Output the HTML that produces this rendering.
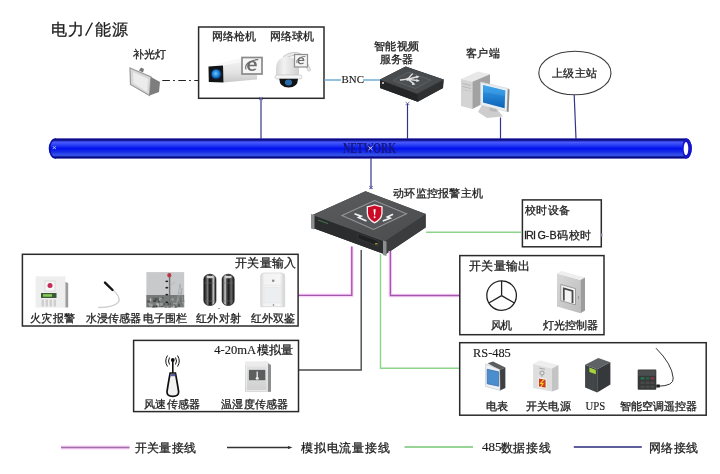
<!DOCTYPE html>
<html><head><meta charset="utf-8">
<style>
html,body{margin:0;padding:0;background:#fff;}
svg{display:block;will-change:transform;font-family:"Liberation Sans",sans-serif;font-size:11px;}
.t{fill:#1e1e1e;stroke:#1e1e1e;stroke-width:0.3px;}
.sf{font-family:"Liberation Serif",serif;}
.ts{fill:#1a1a1a;stroke:#1a1a1a;stroke-width:0.15px;}
</style></head><body>
<svg width="720" height="474" viewBox="0 0 720 474">
<defs>
<linearGradient id="pipe" x1="0" y1="0" x2="0" y2="1">
<stop offset="0" stop-color="#3a3ab0"/>
<stop offset="0.07" stop-color="#00007a"/>
<stop offset="0.19" stop-color="#4a5cff"/>
<stop offset="0.32" stop-color="#2a40f2"/>
<stop offset="0.5" stop-color="#0010ee"/>
<stop offset="0.68" stop-color="#1a30e6"/>
<stop offset="0.83" stop-color="#3a58ea"/>
<stop offset="0.93" stop-color="#00007e"/>
<stop offset="1" stop-color="#4a4ab0"/>
</linearGradient>
<radialGradient id="lens" cx="0.45" cy="0.45" r="0.6">
<stop offset="0" stop-color="#6cc8ff"/>
<stop offset="0.6" stop-color="#1a7fd8"/>
<stop offset="1" stop-color="#0a3f80"/>
</radialGradient>
<linearGradient id="ir" x1="0" y1="0" x2="1" y2="0">
<stop offset="0" stop-color="#1a1a1a"/>
<stop offset="0.25" stop-color="#888"/>
<stop offset="0.4" stop-color="#222"/>
<stop offset="0.7" stop-color="#111"/>
<stop offset="0.85" stop-color="#bbb"/>
<stop offset="1" stop-color="#222"/>
</linearGradient>
<linearGradient id="sky" x1="0" y1="0" x2="0" y2="1">
<stop offset="0" stop-color="#c9cccd"/>
<stop offset="0.55" stop-color="#d2d4d4"/>
<stop offset="0.75" stop-color="#9a9e9c"/>
<stop offset="1" stop-color="#5d625e"/>
</linearGradient>
<linearGradient id="scr" x1="0" y1="0" x2="0" y2="1">
<stop offset="0" stop-color="#3aa0e8"/>
<stop offset="1" stop-color="#0a62b8"/>
</linearGradient>
</defs>

<!-- title -->
<text x="51 67.5 94.5 112" y="35" font-size="16" class="t">电力能源</text>
<line x1="85.6" y1="35.6" x2="92.4" y2="22.6" stroke="#222" stroke-width="1.3"/>

<!-- lamp -->
<text x="133" y="58" class="t" textLength="33" lengthAdjust="spacing">补光灯</text>
<polygon points="130,68 151,77 149.5,95.5 130.5,84.5" fill="#d8d8d8" stroke="#9a9a9a" stroke-width="1.2"/>
<polygon points="133,72 148,79 147,92 133.5,83" fill="#ececec"/>
<polygon points="151,77 160,82 159,92 149.5,95.5" fill="#7d7d7d"/>
<polygon points="139,70.5 141,67.5 144,69 143,72.5" fill="#777"/>
<line x1="162.3" y1="80.5" x2="198" y2="80.5" stroke="#222" stroke-width="1.2" stroke-dasharray="7.6,3.2,1.8,3.4"/>

<!-- camera box -->
<rect x="198.6" y="27" width="125.4" height="71.3" fill="none" stroke="#2a2a2a" stroke-width="1.5"/>
<text x="212" y="40" class="t" textLength="44" lengthAdjust="spacing">网络枪机</text>
<text x="270" y="40" class="t" textLength="44" lengthAdjust="spacing">网络球机</text>
<!-- gun camera -->
<defs>
<linearGradient id="camSide" x1="0" y1="0" x2="0" y2="1">
<stop offset="0" stop-color="#f4f4f4"/>
<stop offset="0.6" stop-color="#e2e2e2"/>
<stop offset="1" stop-color="#c8c8c8"/>
</linearGradient>
<linearGradient id="domeG" x1="0" y1="0" x2="1" y2="0">
<stop offset="0" stop-color="#d6d6d6"/>
<stop offset="0.35" stop-color="#f2f2f2"/>
<stop offset="1" stop-color="#cfcfcf"/>
</linearGradient>
<symbol id="ie" viewBox="0 0 20 20">
<path d="M4.2,10.8 L15.6,10.8 Q16,4.6 10.2,4.4 Q4.4,4.6 4.2,10.8 Q4.4,16.4 10.4,16.4 Q13.8,16.3 15.2,13.8 L12.2,13.8 Q11.4,14.6 10.2,14.6 Q7.4,14.5 7.2,12.2 L7.2,10.8 M7.3,9 Q7.8,6.4 10.2,6.3 Q12.6,6.4 12.8,9 Z" fill="#6c6c6c" fill-rule="evenodd"/>
<path d="M3,14.5 Q1,9 7.5,5.5 Q14,2.5 17.5,3.2" fill="none" stroke="#6c6c6c" stroke-width="1.3"/>
</symbol>
</defs>
<polygon points="208.5,66.5 238,58.5 257,59 223,65.5" fill="#f8f8f8"/>
<polygon points="223,65.5 257,59 257,79.5 223.5,82.5" fill="url(#camSide)"/>
<polygon points="208.5,66.5 223,65.5 223.5,82.5 208.8,82" fill="#121416"/>
<circle cx="216.2" cy="74" r="5.6" fill="#0c2a48"/><circle cx="216.2" cy="74" r="4.6" fill="url(#lens)"/>
<rect x="242" y="57.5" width="20" height="16.5" fill="#f6f6f6" stroke="#8a8a8a" stroke-width="1.7"/>
<use href="#ie" x="243" y="57" width="18" height="17"/>
<!-- dome camera -->
<path d="M285,57 Q296,50.5 303,57.5 L309,69.5" fill="none" stroke="#bdbdbd" stroke-width="3.6" stroke-linecap="round"/><path d="M285,57 Q296,50.5 303,57.5 L309,69.5" fill="none" stroke="#e8e8e8" stroke-width="2.2" stroke-linecap="round"/>
<path d="M276,76 L276,68 Q276.5,57.2 287.5,57 Q298.5,57.2 299,68 L299,76 Z" fill="url(#domeG)"/>
<rect x="275" y="75" width="27" height="4" rx="2" fill="#f4f4f4" stroke="#bdbdbd" stroke-width="0.6"/>
<path d="M279.3,78.8 L298,78.8 Q297.8,87.6 288.6,87.6 Q279.5,87.6 279.3,78.8 Z" fill="#111315"/>
<ellipse cx="288.5" cy="82.5" rx="3.6" ry="3" fill="#2a6aa8"/>
<rect x="294.5" y="54.5" width="13" height="12.5" fill="#f4f4f4" stroke="#8c8c8c" stroke-width="1.2"/>
<use href="#ie" x="295" y="54.5" width="12" height="12"/>

<!-- BNC -->
<line x1="324" y1="80" x2="341" y2="80" stroke="#5a9fd0" stroke-width="1.3"/>
<text x="341.5" y="83.1" font-size="10.8" class="ts sf" textLength="22.4" lengthAdjust="spacingAndGlyphs">BNC</text>
<line x1="363" y1="80" x2="381" y2="80" stroke="#5a9fd0" stroke-width="1.3"/>

<!-- server -->
<text x="374" y="50" class="t" textLength="45" lengthAdjust="spacing">智能视频</text>
<text x="380" y="62.9" class="t" textLength="33" lengthAdjust="spacing">服务器</text>
<polygon points="380,79.5 405.6,66.5 443.6,79.5 443,88 417.7,101.7 380,88" fill="#26282a"/>
<polygon points="380,79.5 405.6,66.5 443.6,79.5 417.2,93.5" fill="#484b4e"/>
<polygon points="417.2,93.5 443.6,79.5 443,88 417.7,101.7" fill="#2e3032"/>
<polygon points="380,79.5 417.2,93.5 417.7,101.7 380,88" fill="#232527"/>
<line x1="380" y1="79.5" x2="417.2" y2="93.5" stroke="#55585b" stroke-width="0.6"/>
<line x1="417.2" y1="93.5" x2="443.6" y2="79.5" stroke="#4a4d50" stroke-width="0.6"/>
<polygon points="393,80.5 408,72 431,80 415.5,88.5" fill="#4c4f52" stroke="#64676a" stroke-width="0.7"/>
<g stroke="#e2e2e2" stroke-width="1.4" fill="none" stroke-linecap="round">
<path d="M400.5,80 L407.6,79.2 L412.4,73.9 M407.6,79.2 L417.5,76.8 M407.6,79.2 L418,80.6 M407.6,79.2 L413.8,83.6"/>
</g>
<circle cx="407.4" cy="79.3" r="1.5" fill="#e2e2e2"/>
<path d="M416,75.4 L419.6,76.5 L416.6,78.4 Z M416.4,79.1 L419.8,80.8 L416.2,82 Z M412.2,82.4 L415.6,84.6 L412,85 Z" fill="#e2e2e2"/>
<circle cx="383" cy="83" r="1.1" fill="#d0d0d0"/>

<!-- client -->
<text x="465.5" y="57" class="t" textLength="34" lengthAdjust="spacing">客户端</text>
<polygon points="461,79 478,71.4 490,74.3 472.4,81.8" fill="#e8e8e8"/>
<polygon points="461,79 472.4,81.8 472.4,109 461,106" fill="#d4d4d4"/>
<polygon points="472.4,81.8 490,74.3 490,100 472.4,109" fill="#a2a2a2"/>
<line x1="462.5" y1="83.5" x2="471" y2="85.5" stroke="#b0b0b0" stroke-width="0.8"/>
<line x1="462.5" y1="86.5" x2="471" y2="88.5" stroke="#b0b0b0" stroke-width="0.8"/>
<line x1="462.5" y1="89.5" x2="471" y2="91.5" stroke="#c0c0c0" stroke-width="0.6"/>
<polygon points="482,105 497,109 503,116.5 487,118 478,112" fill="#cdcdcd"/>
<polygon points="489,106 496,108 497,112 490,111" fill="#b8b8b8"/>
<polygon points="480.5,82 507.8,88.5 506.8,111.5 480.5,105" fill="#e9eef2" stroke="#c8d0d6" stroke-width="0.6"/>
<polygon points="507.8,88.5 509.6,89.8 508.6,112 506.8,111.5" fill="#8a8a8a"/>
<polygon points="483,85 505.3,90.5 504.6,108.3 483,102.5" fill="url(#scr)"/>
<polygon points="483,85 505.3,90.5 505.1,96 483,92" fill="#4ab0f0" opacity="0.35"/>

<!-- superior station -->
<ellipse cx="574.9" cy="73" rx="36.1" ry="21.8" fill="#fff" stroke="#3a3a3a" stroke-width="1.1"/>
<text x="552" y="77" class="t" textLength="45" lengthAdjust="spacing">上级主站</text>

<!-- network verticals -->
<g stroke="#34348c" stroke-width="1.2">
<line x1="261" y1="98" x2="261" y2="139"/>
<line x1="407.5" y1="104" x2="407.5" y2="139"/>
<line x1="500.5" y1="117.5" x2="500.5" y2="139"/>
<line x1="574.2" y1="95" x2="576" y2="139"/>
<line x1="371" y1="158" x2="371" y2="189"/>
</g>
<g stroke="#5a5aa8" stroke-width="0.8">
<path d="M405.5,102 L409.5,105 M409.5,102 L405.5,105"/>
<path d="M259,97 L263,100 M263,97 L259,100"/>
<path d="M369,186 L373,189 M373,186 L369,189"/>
</g>

<!-- pipe -->
<path d="M55.5,138.3 L686,138.3 A5.8,10.25 0 0 1 686,158.8 L55.5,158.8 A6.8,10.25 0 0 1 55.5,138.3 Z" fill="url(#pipe)"/>
<path d="M56,138.9 A6.3,9.65 0 0 0 56,158.2" fill="none" stroke="#0a0a9a" stroke-width="1.2"/>
<path d="M686,138.3 A5.8,10.25 0 0 1 686,158.8 A3.5,10.25 0 0 1 686,138.3 Z" fill="#1414c8"/>
<ellipse cx="686" cy="148.7" rx="2.3" ry="6.6" fill="#fff"/>
<text x="343" y="152.5" font-size="14.5" font-weight="bold" class="sf" fill="#16167a" textLength="53" lengthAdjust="spacingAndGlyphs">NETWORK</text>
<path d="M368.5,146.5 L372.5,150 M372.5,146.5 L368.5,150" stroke="#d0d0ff" stroke-width="1"/>
<text x="52" y="150" font-size="8" fill="#c8c8ff">×</text>

<!-- alarm host -->
<text x="393" y="197" class="t" textLength="90" lengthAdjust="spacing">动环监控报警主机</text>
<defs>
<linearGradient id="hostTop" x1="0" y1="0" x2="1" y2="1">
<stop offset="0" stop-color="#5a5c5e"/>
<stop offset="1" stop-color="#4a4c4e"/>
</linearGradient>
</defs>
<polygon points="313,214.8 365.5,191.3 425.6,213.9 425.6,227.4 385.3,254.5 313,228" fill="#2c2e30"/>
<polygon points="313,214.8 365.5,191.3 425.6,213.9 384.4,241" fill="url(#hostTop)"/>
<polygon points="384.4,241 425.6,213.9 425.6,227.4 385.3,254.5" fill="#3a3c3e"/>
<polygon points="313,214.8 384.4,241 385.3,254.5 313,228" fill="#2a2c2e"/>
<line x1="313" y1="214.8" x2="384.4" y2="241" stroke="#6a6c6e" stroke-width="0.6"/>
<line x1="384.4" y1="241" x2="425.6" y2="213.9" stroke="#5a5c5e" stroke-width="0.6"/>
<polygon points="342,215.5 374.5,200.5 406.5,213.8 373.5,229.5" fill="#55575a" stroke="#94969a" stroke-width="1.1"/>
<polygon points="311,214 314.5,215 314.5,229.5 311,228.5" fill="#8c8e90"/>
<polygon points="383,240.5 386.5,241.5 386.5,256 383,255" fill="#8c8e90"/>
<line x1="318" y1="220" x2="328" y2="223.6" stroke="#4a8a4a" stroke-width="0.8"/>
<polygon points="358,233.5 378,240.8 378,246 358,238.7" fill="#1e2022" stroke="#45474a" stroke-width="0.5"/>
<rect x="375" y="243" width="2.5" height="1.5" fill="#a08a30"/>
<path d="M366.7,206.3 Q370.5,205.6 374.6,204.2 Q378.7,205.6 382.6,206.3 L382.6,213.5 Q382,220 374.6,223.4 Q367.2,220 366.7,213.5 Z" fill="#fff0f2"/>
<path d="M368,207.3 Q371.3,206.7 374.6,205.5 Q377.9,206.7 381.3,207.3 L381.3,213.5 Q380.8,219 374.6,222 Q368.4,219 368,213.5 Z" fill="#cc0a26"/>
<path d="M373.5,209.2 L375.7,209.2 L375.1,215.2 L374.1,215.2 Z" fill="#fff"/>
<circle cx="374.6" cy="217.2" r="1" fill="#fff"/>
<path d="M354.5,213.8 L361,216.2 L358.6,217.4 L366.5,221" fill="none" stroke="#f2f2f2" stroke-width="1.7" stroke-linejoin="miter"/>
<path d="M393,214.2 L387.4,217 L390,218.2 L382.8,221" fill="none" stroke="#f2f2f2" stroke-width="1.7" stroke-linejoin="miter"/>

<!-- timing box -->
<rect x="522.4" y="199.9" width="78.9" height="46.9" fill="none" stroke="#2a2a2a" stroke-width="1.5"/>
<text x="525" y="214" class="t" textLength="45" lengthAdjust="spacing">校时设备</text>
<text x="524 526.1 533 537.5 545.5 549.4" y="239.3" class="t" font-size="10.8">IRIG-B</text>
<text x="556.8 569.2 580.4" y="238.8" class="t">码校时</text>
<rect x="600.5" y="233.5" width="2" height="3" fill="#8a8ab0"/>

<!-- connection lines -->
<g fill="none" stroke-width="3.6" stroke="#fbd6fb">
<polyline points="298,295.4 351.8,295.4 351.8,246.5"/>
<polyline points="390.4,251 390.4,295.5 459.5,295.5"/>
</g>
<g fill="none" stroke-width="1.4">
<polyline points="298,295.4 351.8,295.4 351.8,246.5" stroke="#a455ac"/>
<polyline points="390.4,251 390.4,295.5 459.5,295.5" stroke="#a455ac"/>
<polyline points="361.2,250 361.2,370 298.5,370" stroke="#4a4a4a"/>
<polyline points="380.5,254 380.5,368.3 460,368.3" stroke="#8cd48c"/>
<line x1="426" y1="232.2" x2="522" y2="232.2" stroke="#8cd48c"/>
</g>

<!-- input box -->
<rect x="22.4" y="254.3" width="275.7" height="71.7" fill="none" stroke="#2a2a2a" stroke-width="1.5"/>
<text x="235" y="267" font-size="12" class="t" textLength="61" lengthAdjust="spacing">开关量输入</text>
<text x="30" y="322" class="t" textLength="45" lengthAdjust="spacing">火灾报警</text>
<text x="85.7" y="322" class="t" textLength="55.3" lengthAdjust="spacing">水浸传感器</text>
<text x="143.4" y="322" class="t" textLength="44" lengthAdjust="spacing">电子围栏</text>
<text x="196" y="322" class="t" textLength="45" lengthAdjust="spacing">红外对射</text>
<text x="250.5" y="322" class="t" textLength="44.5" lengthAdjust="spacing">红外双鉴</text>
<!-- fire alarm -->
<rect x="35.6" y="276.3" width="29.8" height="31.3" fill="#eeeeee"/>
<polygon points="65.4,282 68.2,283 68.2,307.6 65.4,307.6" fill="#9d9d9d"/>
<rect x="45" y="281" width="10" height="10" fill="#f6f6f6" stroke="#ccc" stroke-width="0.6"/>
<circle cx="50" cy="285.6" r="2.5" fill="#c82a5a"/>
<rect x="41" y="293" width="15.5" height="5" fill="#3a5a3a"/>
<rect x="43" y="294.2" width="9" height="2.5" fill="#8acb5a"/>
<g fill="#cfcfcf"><rect x="41.5" y="299.5" width="2.5" height="7"/><rect x="45.5" y="299.5" width="2.5" height="7"/><rect x="49.5" y="299.5" width="2.5" height="7"/><rect x="53.5" y="299.5" width="2.5" height="7"/></g>
<!-- water sensor -->
<path d="M113,290 Q121,297 118.5,302 Q114,307.5 98,307.5" fill="none" stroke="#e0e0e0" stroke-width="1.6"/>
<path d="M113,290 Q121,297 118.5,302 Q114,307.5 98,307.5" fill="none" stroke="#b8b8b8" stroke-width="0.5"/>
<line x1="105" y1="282.6" x2="112.5" y2="290" stroke="#151515" stroke-width="2.4" stroke-linecap="round"/>
<!-- fence photo -->
<defs><clipPath id="fc"><rect x="146.2" y="272.1" width="38.2" height="35.5"/></clipPath></defs>
<g clip-path="url(#fc)">
<rect x="146.2" y="272.1" width="38.2" height="35.5" fill="#c7c9cb"/>
<rect x="146.2" y="295" width="38.2" height="12.6" fill="#767a78"/>
<rect x="155.0" y="302.4" width="1.9" height="2.2" fill="#7c807e"/>
<rect x="167.7" y="303.1" width="3.3" height="1.9" fill="#484c4a"/>
<rect x="154.9" y="307.0" width="2.2" height="2.7" fill="#b8bbb9"/>
<rect x="160.9" y="305.6" width="1.6" height="1.3" fill="#484c4a"/>
<rect x="160.6" y="297.2" width="2.9" height="1.3" fill="#484c4a"/>
<rect x="147.8" y="304.8" width="3.1" height="1.5" fill="#484c4a"/>
<rect x="172.8" y="305.8" width="2.8" height="2.8" fill="#b8bbb9"/>
<rect x="173.1" y="302.8" width="3.4" height="1.3" fill="#9a9e9c"/>
<rect x="149.8" y="298.4" width="1.5" height="2.9" fill="#b8bbb9"/>
<rect x="175.0" y="305.6" width="2.1" height="2.7" fill="#484c4a"/>
<rect x="159.2" y="302.9" width="2.5" height="2.8" fill="#7c807e"/>
<rect x="180.1" y="297.3" width="1.7" height="2.2" fill="#7c807e"/>
<rect x="152.2" y="305.6" width="3.4" height="2.8" fill="#484c4a"/>
<rect x="150.1" y="303.6" width="2.6" height="3.0" fill="#9a9e9c"/>
<rect x="156.7" y="297.6" width="3.1" height="3.0" fill="#5a5e5c"/>
<rect x="158.9" y="297.7" width="3.2" height="1.0" fill="#b8bbb9"/>
<rect x="174.6" y="305.7" width="1.1" height="2.2" fill="#5a5e5c"/>
<rect x="160.2" y="302.9" width="2.4" height="2.8" fill="#9a9e9c"/>
<rect x="164.9" y="307.0" width="1.8" height="1.2" fill="#484c4a"/>
<rect x="166.0" y="306.5" width="3.4" height="1.6" fill="#9a9e9c"/>
<rect x="152.0" y="297.4" width="3.2" height="1.6" fill="#6a6e6a"/>
<rect x="179.4" y="300.8" width="2.2" height="2.0" fill="#7c807e"/>
<rect x="178.3" y="303.8" width="1.3" height="2.9" fill="#484c4a"/>
<rect x="156.2" y="303.3" width="2.8" height="2.9" fill="#b8bbb9"/>
<rect x="182.4" y="302.2" width="2.4" height="1.0" fill="#b8bbb9"/>
<rect x="182.7" y="300.1" width="1.9" height="2.2" fill="#6a6e6a"/>
<rect x="148.4" y="303.3" width="2.2" height="2.4" fill="#9a9e9c"/>
<rect x="168.7" y="299.8" width="2.2" height="2.2" fill="#7c807e"/>
<rect x="147.0" y="300.7" width="2.6" height="1.6" fill="#484c4a"/>
<rect x="158.0" y="300.6" width="1.8" height="1.7" fill="#484c4a"/>
<rect x="156.0" y="304.9" width="1.3" height="2.6" fill="#484c4a"/>
<rect x="171.5" y="298.3" width="2.3" height="2.3" fill="#9a9e9c"/>
<rect x="155.0" y="298.9" width="2.1" height="2.4" fill="#5a5e5c"/>
<rect x="168.4" y="306.5" width="2.7" height="1.4" fill="#6a6e6a"/>
<rect x="149.2" y="304.4" width="1.5" height="2.1" fill="#9a9e9c"/>
<rect x="154.5" y="298.2" width="2.3" height="1.4" fill="#484c4a"/>
<rect x="153.0" y="299.8" width="3.0" height="2.3" fill="#484c4a"/>
<rect x="159.0" y="298.3" width="1.7" height="2.6" fill="#9a9e9c"/>
<rect x="163.4" y="303.3" width="1.7" height="2.1" fill="#5a5e5c"/>
<rect x="180.3" y="298.6" width="1.0" height="2.9" fill="#484c4a"/>
<g stroke="#9ea2a2" stroke-width="0.6" fill="none">
<path d="M176,307 L180,284 L184,307 M177,300 L183,300 M178,293 L182,293 M176.5,304 L182.5,288"/>
</g>
<line x1="169.6" y1="277" x2="169.6" y2="307.6" stroke="#6e7272" stroke-width="1.4"/>
<line x1="169.6" y1="286" x2="175" y2="282" stroke="#9aa" stroke-width="0.5"/>
<g fill="#222"><ellipse cx="166.8" cy="281.3" rx="1.5" ry="0.9"/><ellipse cx="166.8" cy="287.7" rx="1.5" ry="0.9"/><ellipse cx="166.8" cy="294.6" rx="1.5" ry="0.9"/><ellipse cx="166.8" cy="302.3" rx="1.5" ry="0.9"/></g>
<ellipse cx="169.3" cy="275.3" rx="2" ry="2.3" fill="#b83a4a"/>
</g>
<!-- IR beams -->
<defs>
<linearGradient id="ir1" x1="0" y1="0" x2="1" y2="0">
<stop offset="0" stop-color="#151515"/>
<stop offset="0.15" stop-color="#3a3a3a"/>
<stop offset="0.32" stop-color="#7c7c7c"/>
<stop offset="0.45" stop-color="#1e1e1e"/>
<stop offset="0.62" stop-color="#2a2a2a"/>
<stop offset="0.78" stop-color="#c8c8c8"/>
<stop offset="0.9" stop-color="#5a5a5a"/>
<stop offset="1" stop-color="#151515"/>
</linearGradient>
<linearGradient id="ir2" x1="0" y1="0" x2="1" y2="0">
<stop offset="0" stop-color="#151515"/>
<stop offset="0.12" stop-color="#5a5a5a"/>
<stop offset="0.25" stop-color="#d0d0d0"/>
<stop offset="0.38" stop-color="#4a4a4a"/>
<stop offset="0.55" stop-color="#1a1a1a"/>
<stop offset="0.75" stop-color="#6a6a6a"/>
<stop offset="0.88" stop-color="#3a3a3a"/>
<stop offset="1" stop-color="#151515"/>
</linearGradient>
</defs>
<rect x="203.8" y="274.2" width="12.2" height="31.4" rx="6" ry="5" fill="url(#ir1)" stroke="#111" stroke-width="0.6"/>
<rect x="222.1" y="274.2" width="12.1" height="31.4" rx="6" ry="5" fill="url(#ir2)" stroke="#111" stroke-width="0.6"/>
<ellipse cx="209.9" cy="277" rx="3.5" ry="1.3" fill="#cfcfcf"/>
<ellipse cx="228.2" cy="277" rx="3.5" ry="1.3" fill="#cfcfcf"/>
<g stroke="#777" stroke-width="0.4"><line x1="204.5" y1="283" x2="215.5" y2="283"/><line x1="222.8" y1="283" x2="233.6" y2="283"/><line x1="204.5" y1="301" x2="215.5" y2="301"/><line x1="222.8" y1="301" x2="233.6" y2="301"/></g>
<circle cx="219" cy="308.5" r="0.6" fill="#333"/>
<!-- PIR -->
<defs><linearGradient id="pirg" x1="0" y1="0" x2="1" y2="0"><stop offset="0" stop-color="#d8d8d8"/><stop offset="0.15" stop-color="#f2f2f2"/><stop offset="0.8" stop-color="#f6f6f6"/><stop offset="1" stop-color="#d0d0d0"/></linearGradient></defs>
<path d="M260.7,276 Q260.7,273 264,273 L281.4,273 Q284.7,273 284.7,276 L284.7,306.7 L260.7,306.7 Z" fill="url(#pirg)" stroke="#d2d2d2" stroke-width="0.7"/>
<line x1="261.5" y1="285.3" x2="284" y2="285.3" stroke="#e0e0e0" stroke-width="0.6"/>
<rect x="264" y="287.5" width="17.5" height="15.5" fill="#eceef0" stroke="#e2e2e2" stroke-width="0.5"/>
<circle cx="273.2" cy="280.8" r="1.3" fill="#8a8a8a"/>
<circle cx="273.5" cy="305" r="0.8" fill="#777"/>

<!-- output box -->
<rect x="459.8" y="255.6" width="144.2" height="79.1" fill="none" stroke="#2a2a2a" stroke-width="1.5"/>
<text x="469" y="270" font-size="12" class="t" textLength="61" lengthAdjust="spacing">开关量输出</text>
<circle cx="501.6" cy="295.6" r="14.8" fill="none" stroke="#222" stroke-width="1.3"/>
<g stroke="#222" stroke-width="1.3"><line x1="501.6" y1="295.6" x2="501.6" y2="280.8"/><line x1="501.6" y1="295.6" x2="514.4" y2="303"/><line x1="501.6" y1="295.6" x2="488.8" y2="303"/></g>
<text x="491" y="328.5" class="t" textLength="21" lengthAdjust="spacing">风机</text>
<text x="543" y="328.5" class="t" textLength="55.4" lengthAdjust="spacing">灯光控制器</text>
<defs><linearGradient id="cab" x1="0" y1="0" x2="1" y2="1"><stop offset="0" stop-color="#d8d8d8"/><stop offset="1" stop-color="#bcbcbc"/></linearGradient></defs>
<polygon points="557,273.5 580.5,280 580.5,313.2 557,306.5" fill="url(#cab)"/>
<polygon points="557,273.5 561.5,271 585,277.5 580.5,280" fill="#eeeeee"/>
<polygon points="580.5,280 585,277.5 585,310.5 580.5,313.2" fill="#9c9c9c"/>
<polygon points="560.8,284.5 575.5,288.6 575.5,304.8 560.8,300.7" fill="#f4f4f4" stroke="#8a8a8a" stroke-width="0.8"/>
<path d="M563.8,300.5 L563.8,288.5 L572.5,291 L572.5,303" fill="none" stroke="#4a4a4a" stroke-width="1.8"/>
<line x1="578.5" y1="296" x2="578.5" y2="299" stroke="#777" stroke-width="0.6"/>

<!-- 4-20mA box -->
<rect x="133.6" y="340.4" width="164.9" height="71.2" fill="none" stroke="#2a2a2a" stroke-width="1.5"/>
<text x="214.2" y="354.2" font-size="12" class="ts sf" textLength="41.8" lengthAdjust="spacingAndGlyphs">4-20mA</text>
<text x="256.8" y="354.2" font-size="12" class="t" textLength="36" lengthAdjust="spacing">模拟量</text>
<text x="144" y="407.5" class="t" textLength="56" lengthAdjust="spacing">风速传感器</text>
<text x="221.3" y="407.5" class="t" textLength="66.7" lengthAdjust="spacing">温湿度传感器</text>
<!-- antenna -->
<g fill="none" stroke="#111" stroke-width="1">
<path d="M169.5,357.5 Q167.5,361 169.5,364.5"/><path d="M167.5,355.5 Q164,361 167.5,366.5"/>
<path d="M175.5,357.5 Q177.5,361 175.5,364.5"/><path d="M177.5,355.5 Q181,361 177.5,366.5"/>
</g>
<circle cx="172.8" cy="360" r="1.9" fill="#111"/>
<line x1="172.8" y1="360" x2="172.8" y2="373" stroke="#111" stroke-width="1.6"/>
<path d="M170.2,373 L175.4,373 Q176.8,380 178.6,391.5 Q179,396.3 172.8,396.3 Q166.6,396.3 167,391.5 Q168.8,380 170.2,373 Z" fill="#f2f2f2" stroke="#111" stroke-width="1.7"/>
<rect x="170" y="374" width="5.4" height="2.2" fill="#5a5aa0"/>
<!-- temp sensor -->
<defs><linearGradient id="tsg" x1="0" y1="0" x2="0" y2="1"><stop offset="0" stop-color="#e4e4e4"/><stop offset="0.5" stop-color="#dadada"/><stop offset="1" stop-color="#cfcfcf"/></linearGradient></defs>
<polygon points="245,362.5 267.5,361.5 271,364.5 271,391.8 245,391.8" fill="url(#tsg)"/>
<polygon points="245,361.5 267.5,361.5 268.5,365.5 245,365.5" fill="#ececec"/>
<polygon points="268,363.5 271,365 271,391.8 268,391.8" fill="#8e8e8e"/>
<rect x="246.5" y="366" width="20.5" height="24.5" fill="none" stroke="#f0f0f0" stroke-width="0.8"/>
<rect x="248.9" y="369.9" width="16.4" height="10.3" fill="#5c5e60"/>
<line x1="257.2" y1="371.5" x2="257.2" y2="377.5" stroke="#eee" stroke-width="1.3"/>
<circle cx="257.2" cy="378.3" r="1.5" fill="#eee"/>

<!-- RS485 box -->
<rect x="459.7" y="342.7" width="246.5" height="72.5" fill="none" stroke="#2a2a2a" stroke-width="1.5"/>
<text x="473" y="356.7" font-size="13" class="ts sf" textLength="37.8" lengthAdjust="spacingAndGlyphs">RS-485</text>
<text x="486" y="409.5" class="t" textLength="21.7" lengthAdjust="spacing">电表</text>
<text x="526.2" y="409.5" class="t" textLength="44.3" lengthAdjust="spacing">开关电源</text>
<text x="585.6" y="409.7" font-size="12" class="ts sf" textLength="19.7" lengthAdjust="spacingAndGlyphs">UPS</text>
<text x="619.5" y="409.5" class="t" textLength="77.5" lengthAdjust="spacing">智能空调遥控器</text>
<!-- meter -->
<polygon points="487.7,363.3 493,361.5 505.4,367.4 499.5,370" fill="#5a5c5e"/>
<polygon points="499.5,370 505.4,367.4 505.4,388 500,390.4" fill="#3e4042"/>
<polygon points="485.8,364 499.5,369.5 500,390.4 485.3,386.3" fill="#eef2f6" stroke="#b8c2ca" stroke-width="0.6"/>
<polygon points="487.2,369.2 498.6,371.8 498.6,386.2 487.2,383.8" fill="#4a8ed0" stroke="#2a5a90" stroke-width="0.6"/>
<!-- switch PSU -->
<polygon points="533.1,363.9 539.6,360.3 558.5,365 552,368.6" fill="#eeeeee"/>
<polygon points="533.1,363.9 552,368.6 552,391.6 533.1,388" fill="#dedede"/>
<polygon points="552,368.6 558.5,365 558.5,389.2 552,391.6" fill="#c4c4c4"/>
<line x1="539" y1="368" x2="545" y2="369.3" stroke="#999" stroke-width="0.8"/>
<circle cx="542" cy="373" r="2.1" fill="none" stroke="#8a8a8a" stroke-width="0.8"/>
<line x1="542" y1="375" x2="542" y2="377" stroke="#8a8a8a" stroke-width="0.6"/>
<polygon points="538.2,377.6 546.3,379 546.3,388.6 538.2,387.2" fill="#fff"/>
<polygon points="538.9,378.5 545.6,379.7 545.6,387.8 538.9,386.6" fill="#c8401a"/>
<path d="M543.8,379.6 L540.6,383.4 L543,383.6 L540.8,387" fill="none" stroke="#ffcc30" stroke-width="1.1"/>

<!-- UPS -->
<polygon points="585.1,364.7 598.3,358.1 610.4,362.2 597.2,369.2" fill="#5e6264"/>
<polygon points="585.1,364.7 597.2,369.2 597.2,392.5 585.1,387.5" fill="#404446"/>
<polygon points="597.2,369.2 610.4,362.2 610.4,384.4 597.2,392.5" fill="#36393b"/>
<polygon points="589.4,367.6 595.8,370 595.8,374.3 589.4,371.9" fill="#a6d63c"/>
<g stroke="#4c5052" stroke-width="0.5"><line x1="590" y1="374" x2="590" y2="389"/><line x1="593" y1="375" x2="593" y2="390.5"/></g>

<!-- AC remote -->
<path d="M656,348.2 Q672,364 673.2,378 Q674,386 658,386.2" fill="none" stroke="#333" stroke-width="1"/>
<rect x="637.7" y="369.4" width="18.6" height="20.3" rx="1" fill="#363838"/>
<rect x="638.5" y="370.3" width="17" height="5.5" fill="#4a4e4e"/>
<rect x="640.5" y="377" width="4" height="2.8" rx="1" fill="#2a7050"/>
<rect x="645.5" y="377" width="4" height="2.8" rx="1" fill="#2e5a48"/>
<rect x="650.5" y="377" width="4" height="2.8" rx="1" fill="#7a3a48"/>
<g fill="#484a4a"><rect x="640.5" y="381.5" width="4" height="2.5"/><rect x="645.5" y="381.5" width="4" height="2.5"/><rect x="650.5" y="381.5" width="4" height="2.5"/><rect x="640.5" y="385.5" width="4" height="2.5"/><rect x="645.5" y="385.5" width="4" height="2.5"/><rect x="650.5" y="385.5" width="4" height="2.5"/></g>
<rect x="656.3" y="384.5" width="3.5" height="3" fill="#1a1a1a"/>

<!-- legend -->
<line x1="61" y1="447.5" x2="129.5" y2="447.5" stroke="#fad0fa" stroke-width="3.8"/>
<g stroke-width="1.7">
<line x1="61" y1="447.5" x2="129.5" y2="447.5" stroke="#a070a6"/>
<line x1="227" y1="447.5" x2="290" y2="447.5" stroke="#333"/>
<path d="M288,446 L292.5,447.5 L288,449 Z" fill="#333" stroke="none"/>
<line x1="404.5" y1="447" x2="473" y2="447" stroke="#98d498" stroke-width="2"/>
<line x1="573.8" y1="447" x2="641.8" y2="447" stroke="#5e5e9c" stroke-width="1.9"/>
</g>
<text x="134.5" y="452" font-size="12" class="t" textLength="61.5" lengthAdjust="spacing">开关量接线</text>
<text x="301" y="452" font-size="12" class="t" textLength="88.5" lengthAdjust="spacing">模拟电流量接线</text>
<text x="482" y="450.8" font-size="12.5" class="ts sf" textLength="19.5" lengthAdjust="spacingAndGlyphs">485</text>
<text x="500.5" y="452" font-size="12" class="t" textLength="50" lengthAdjust="spacing">数据接线</text>
<text x="649" y="452" font-size="12" class="t" textLength="49.2" lengthAdjust="spacing">网络接线</text>
</svg>
</body></html>
